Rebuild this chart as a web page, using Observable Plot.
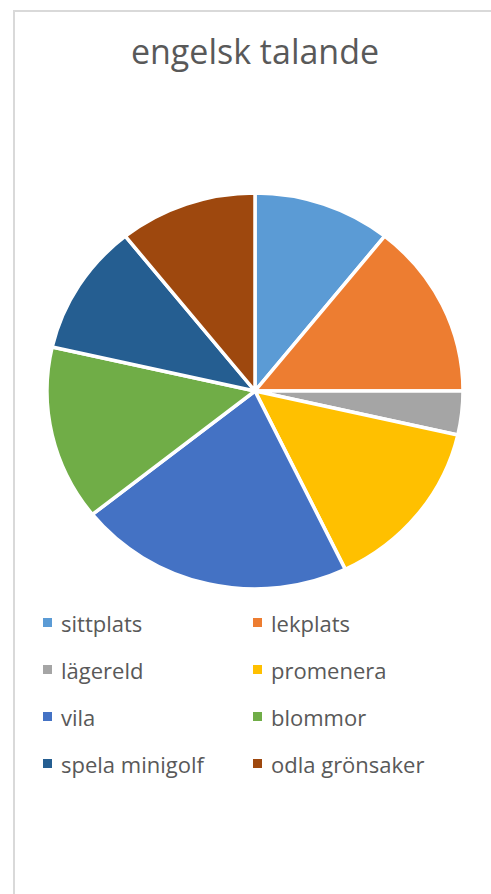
<!DOCTYPE html>
<html>
<head>
<meta charset="utf-8">
<script src="https://cdn.jsdelivr.net/npm/d3@7"></script>
<script src="https://cdn.jsdelivr.net/npm/@observablehq/plot@0.6"></script>
<style>
  html, body { margin: 0; padding: 0; background: #fff; width: 491px; height: 894px; overflow: hidden; }
  body { position: relative; font-family: "Open Sans", Lato, sans-serif; color: #595959; }
  #frame { position: absolute; left: 13px; top: 10px; width: 600px; height: 1000px; border: 2px solid #d9d9d9; box-sizing: border-box; }
  #title { position: absolute; left: 0; width: 510px; top: 31px; text-align: center; font-size: 34px; line-height: 40px; }
  #chart { position: absolute; left: 0; top: 176px; }
  #legend { position: absolute; left: 43px; top: 599px; display: grid; grid-template-columns: 210px 210px; row-gap: 0; }
  .item { display: flex; align-items: center; height: 47px; font-size: 22px; }
  .sw { width: 9px; height: 9px; margin-right: 9px; }
</style>
</head>
<body>
<div id="frame"></div>
<div id="title">engelsk talande</div>
<div id="chart"></div>
<div id="legend"></div>
<script>
const categories = ["sittplats", "lekplats", "lägereld", "promenera", "vila", "blommor", "spela minigolf", "odla grönsaker"];
const values = [3, 4, 1, 4, 6, 4, 3, 3];
const colors = ["#5B9BD5", "#ED7D31", "#A5A5A5", "#FFC000", "#4472C4", "#70AD47", "#255E91", "#9E480E"];

const data = categories.map((c, i) => ({category: c, value: values[i]}));

const W = 491, H = 430, cx = 255, cy = 215, R = 208, yScale = 0.952;

const pieMark = (index, scales, values_, dims, context) => {
  const pie = d3.pie().sort(null).value(d => d.value);
  const arcs = pie(data);
  const arc = d3.arc().innerRadius(0).outerRadius(R);
  const g = d3.create("svg:g").attr("transform", `translate(${cx},${cy}) scale(1,${yScale})`);
  g.selectAll("path").data(arcs).join("path")
    .attr("d", arc)
    .attr("fill", d => scales.color(d.data.category))
    .attr("stroke", "#fff")
    .attr("stroke-width", 3.5)
    .attr("vector-effect", "non-scaling-stroke")
    .attr("stroke-linejoin", "round");
  return g.node();
};

const plot = Plot.plot({
  width: W,
  height: H,
  margin: 0,
  x: {axis: null},
  y: {axis: null},
  color: {domain: categories, range: colors},
  marks: [
    Plot.dot(data, {x: () => 0, y: () => 0, fill: "category", r: 0, opacity: 0}),
    pieMark
  ]
});
document.getElementById("chart").appendChild(plot);

const colorScale = plot.scale("color");
const legend = document.getElementById("legend");
categories.forEach((c, i) => {
  const item = document.createElement("div");
  item.className = "item";
  const sw = document.createElement("span");
  sw.className = "sw";
  sw.style.background = colorScale.range[colorScale.domain.indexOf(c)];
  const t = document.createElement("span");
  t.textContent = c;
  item.appendChild(sw);
  item.appendChild(t);
  legend.appendChild(item);
});
</script>
</body>
</html>
